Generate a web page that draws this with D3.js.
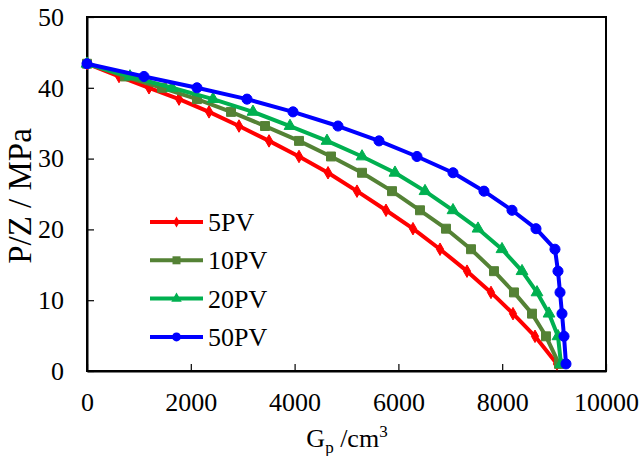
<!DOCTYPE html>
<html>
<head>
<meta charset="utf-8">
<script src="https://cdn.jsdelivr.net/npm/d3@7"></script>
<style>
  body { margin: 0; background: #fff; }
  svg { display: block; }
  text { font-family: "Liberation Serif", "Times New Roman", serif; fill: #000; }
</style>
</head>
<body>
<div class="grafico"></div>
<script>
// P/Z levels shared by all runs (MPa)
var presion = [43.4, 41.6, 40.0, 38.4, 36.6, 34.6, 32.5, 30.3, 28.0, 25.4, 22.7, 20.1, 17.2, 14.1, 11.1, 8.1, 4.9, 1.0];

// cumulative gas production Gp (cm3) for each run
var gp5 = [0, 617, 1195, 1773, 2351, 2929, 3507, 4085, 4644, 5202, 5761, 6281, 6802, 7322, 7784, 8208, 8632, 9056];
var gp10 = [0, 732, 1445, 2119, 2775, 3430, 4085, 4701, 5299, 5877, 6416, 6917, 7399, 7842, 8227, 8574, 8844, 9094];
var gp20 = [0, 828, 1638, 2428, 3198, 3911, 4624, 5299, 5934, 6513, 7052, 7534, 7996, 8382, 8671, 8902, 9075, 9133];
var gp50 = [0, 1098, 2119, 3083, 3969, 4836, 5626, 6358, 7052, 7649, 8189, 8651, 9017, 9075, 9114, 9152, 9191, 9229];

var nombres = ['5PV', '10PV', '20PV', '50PV'];
var xTicks = [0, 2000, 4000, 6000, 8000, 10000];
var yTicks = [0, 10, 20, 30, 40, 50];

var series = [
  { nombre: nombres[0], gp: gp5, color: '#ff0000', simbolo: d3.symbolDiamond, tam: 45 },
  { nombre: nombres[1], gp: gp10, color: '#548235', simbolo: d3.symbolSquare, tam: 80 },
  { nombre: nombres[2], gp: gp20, color: '#00b050', simbolo: d3.symbolTriangle, tam: 60 },
  { nombre: nombres[3], gp: gp50, color: '#0000ff', simbolo: d3.symbolCircle, tam: 80 }
];

var svg = d3.select('.grafico')
  .append('svg')
  .attr('width', 639)
  .attr('height', 456);

const xScale = d3.scaleLinear().domain([0, 10000]).range([87, 606]);
const yScale = d3.scaleLinear().domain([0, 50]).range([371, 17]);

// frame
svg.append('rect')
  .attr('x', 87)
  .attr('y', 17)
  .attr('width', 606 - 87)
  .attr('height', 371 - 17)
  .attr('fill', 'none')
  .attr('stroke', '#000')
  .attr('stroke-width', 2);

const xAxis = d3.axisBottom(xScale)
  .tickValues(xTicks)
  .tickSizeInner(-7)
  .tickSizeOuter(0)
  .tickPadding(22)
  .tickFormat(d3.format('d'));

const yAxis = d3.axisLeft(yScale)
  .tickValues(yTicks)
  .tickSizeInner(-7)
  .tickSizeOuter(0)
  .tickPadding(23);

var gx = svg.append('g')
  .attr('transform', 'translate(0,371)')
  .call(xAxis);

var gy = svg.append('g')
  .attr('transform', 'translate(87,0)')
  .call(yAxis);

[gx, gy].forEach(function (g) {
  g.select('.domain').attr('stroke', '#000').attr('stroke-width', 2);
  g.selectAll('.tick line').attr('stroke', '#000').attr('stroke-width', 1.2);
  g.selectAll('.tick text')
    .attr('font-family', '"Liberation Serif", serif')
    .attr('font-size', 26)
    .attr('fill', '#000');
});

var linea = d3.line()
  .x(function (d) { return xScale(d[0]); })
  .y(function (d) { return yScale(d[1]); });

series.forEach(function (s) {
  var puntos = s.gp.map(function (g, i) { return [g, presion[i]]; });
  var grupo = svg.append('g');
  grupo.append('path')
    .datum(puntos)
    .attr('d', linea)
    .attr('fill', 'none')
    .attr('stroke', s.color)
    .attr('stroke-width', 4)
    .attr('stroke-linejoin', 'round');
  grupo.selectAll('path.marca')
    .data(puntos)
    .enter()
    .append('path')
    .attr('class', 'marca')
    .attr('d', d3.symbol().type(s.simbolo).size(s.tam))
    .attr('transform', function (d) {
      return 'translate(' + xScale(d[0]) + ',' + yScale(d[1]) + ')';
    })
    .attr('fill', s.color)
    .attr('stroke', s.color)
    .attr('stroke-width', 1);
});

// legend
var leyenda = svg.append('g');
series.forEach(function (s, i) {
  var y = 222 + i * 38.3;
  leyenda.append('line')
    .attr('x1', 150).attr('x2', 203)
    .attr('y1', y).attr('y2', y)
    .attr('stroke', s.color)
    .attr('stroke-width', 4);
  leyenda.append('path')
    .attr('d', d3.symbol().type(s.simbolo).size(s.tam * 0.8))
    .attr('transform', 'translate(176.5,' + y + ')')
    .attr('fill', s.color);
  leyenda.append('text')
    .attr('x', 208)
    .attr('y', y + 9)
    .attr('font-size', 26)
    .text(s.nombre);
});

// axis titles
svg.append('text')
  .attr('transform', 'translate(31,196) rotate(-90)')
  .attr('text-anchor', 'middle')
  .attr('font-size', 33)
  .text('P/Z / MPa');

var tituloX = svg.append('text')
  .attr('x', 347)
  .attr('y', 447)
  .attr('text-anchor', 'middle')
  .attr('font-size', 26);
tituloX.append('tspan').text('G');
tituloX.append('tspan').attr('font-size', 17).attr('dy', 6).text('p');
tituloX.append('tspan').attr('dy', -6).text(' /cm');
tituloX.append('tspan').attr('font-size', 17).attr('dy', -10).text('3');
</script>
</body>
</html>
